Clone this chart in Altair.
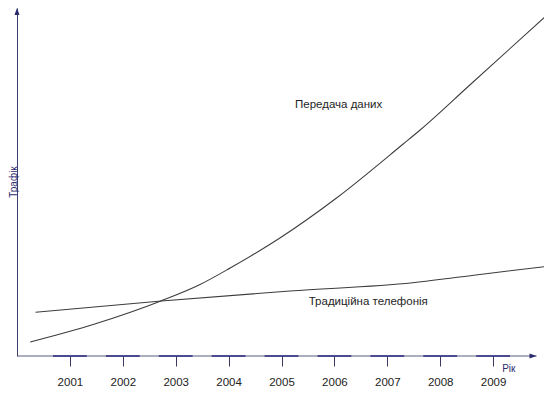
import altair as alt
import pandas as pd

# ---- data ----
years_data = [2000.25, 2001.47, 2002.72, 2003.46, 2004.03, 2004.97, 2006.04, 2007.30, 2007.62, 2008.56, 2010.02]
traffic_data = [14, 32, 55, 71.5, 88, 118, 158, 212, 226, 271, 341]

years_tel = [2000.35, 2002.73, 2005.16, 2007.48, 2008.75, 2010.07]
traffic_tel = [43.7, 55, 65, 73.3, 81.5, 90]

series_names = ["Передача даних", "Традиційна телефонія"]
tick_years = [2001, 2002, 2003, 2004, 2005, 2006, 2007, 2008, 2009]

label_years = [2006.08, 2006.64]
label_values = [248, 51]

axis_x_start = 2000.0
axis_x_end = 2009.82
axis_y_top = 348
dash_half = 0.32

X_DOMAIN = [2000.0, 2009.962]
Y_DOMAIN = [0, 348]

FONT = "Liberation Sans"
NAVY = "#2a2a6e"
LINE = "#3c3c3c"

x_scale = alt.Scale(domain=X_DOMAIN, nice=False, zero=False)
y_scale = alt.Scale(domain=Y_DOMAIN, nice=False, zero=False)

x_axis = alt.Axis(
    values=tick_years, format="d", domain=False, grid=False,
    ticks=True, tickSize=10, tickColor="#3a3a60", tickWidth=1,
    labelFont=FONT, labelFontSize=11.5, labelColor="#222222",
    labelBaseline="alphabetic", labelPadding=19, labelFlush=False, labelOverlap=False,
    title="Рік", titleX=484.7, titleY=15.7, titleAlign="left", titleBaseline="alphabetic",
    titleFont=FONT, titleFontSize=10, titleFontWeight="normal", titleColor=NAVY,
)
y_axis = alt.Axis(
    labels=False, ticks=False, grid=False, domain=True,
    domainColor="#3c3c6e", domainWidth=1,
    title="Трафік", titleAngle=270, titleX=-0.2, titleY=173.5,
    titleAlign="center", titleBaseline="alphabetic",
    titleFont=FONT, titleFontSize=10, titleFontWeight="normal", titleColor=NAVY,
)


def X(field="year"):
    return alt.X(f"{field}:Q", scale=x_scale, axis=x_axis)


def Y(field="traffic"):
    return alt.Y(f"{field}:Q", scale=y_scale, axis=y_axis)


lines_df = pd.concat([
    pd.DataFrame({"year": years_data, "traffic": traffic_data, "series": series_names[0]}),
    pd.DataFrame({"year": years_tel, "traffic": traffic_tel, "series": series_names[1]}),
])

lines = alt.Chart(lines_df).mark_line(color=LINE, strokeWidth=1.05, interpolate="monotone").encode(
    x=X(), y=Y(), detail="series:N",
)

base_df = pd.DataFrame({"year": [axis_x_start], "year2": [axis_x_end], "traffic": [0]})
base_line = alt.Chart(base_df).mark_rule(color="#5c5c82", strokeWidth=1).encode(
    x=X(), x2="year2:Q", y=Y(),
)

dash_df = pd.DataFrame({
    "year": [t - dash_half for t in tick_years],
    "year2": [t + dash_half for t in tick_years],
    "traffic": [0] * len(tick_years),
})
dashes = alt.Chart(dash_df).mark_rule(color="#2a2a7e", strokeWidth=1.5).encode(
    x=X(), x2="year2:Q", y=Y(),
)

arrow_x_df = pd.DataFrame({"year": [axis_x_end], "traffic": [0]})
arrow_x = alt.Chart(arrow_x_df).mark_point(
    shape="M0,0L-1.4,-0.5L-1.4,0.5Z", filled=True, size=100, color=NAVY, opacity=1, strokeWidth=0
).encode(x=X(), y=Y())

arrow_y_df = pd.DataFrame({"year": [axis_x_start], "traffic": [axis_y_top]})
arrow_y = alt.Chart(arrow_y_df).mark_point(
    shape="M0,0L-0.5,1.4L0.5,1.4Z", filled=True, size=100, color=NAVY, opacity=1, strokeWidth=0
).encode(x=X(), y=Y())

labels_df = pd.DataFrame({"year": label_years, "traffic": label_values, "text": series_names})
labels = alt.Chart(labels_df).mark_text(
    font=FONT, fontSize=11.5, color="#1e1e1e", align="center", baseline="alphabetic"
).encode(x=X(), y=Y(), text="text:N")

chart = alt.layer(lines, base_line, dashes, arrow_x, arrow_y, labels).properties(
    width=527, height=348,
    autosize=alt.AutoSizeParams(type="none"),
    padding={"left": 9, "top": 0, "right": 0, "bottom": 30},
    background="white",
).configure_view(stroke=None)

chart.save("out.html", embed_options={"renderer": "svg", "actions": False})
